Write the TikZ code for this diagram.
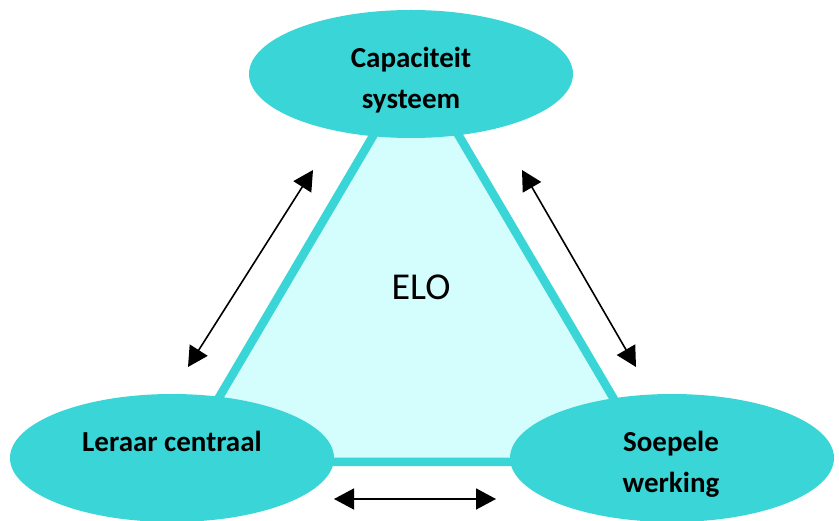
\documentclass[tikz,border=0pt]{standalone}
\usepackage{fontspec}
\setmainfont{Carlito}
\usetikzlibrary{shapes.geometric,arrows.meta}
\definecolor{teal1}{RGB}{58,213,214}
\definecolor{lcyan}{RGB}{212,254,254}
\begin{document}
\begin{tikzpicture}[x=1pt,y=-1pt,
  blob/.style={ellipse,fill=teal1,draw=none,minimum width=324pt,minimum height=128pt,inner sep=0pt},
  lbl/.style={font=\fontsize{29}{41}\selectfont\bfseries,align=center,text=black},
  dbl/.style={{Triangle[length=20pt,width=21pt]}-{Triangle[length=20pt,width=21pt]},line width=1.6pt,black}]
\useasboundingbox (0,0) rectangle (839,521);
\coordinate (ta) at (416,63);
\coordinate (tl) at (181,462);
\coordinate (tr) at (651,462);
\filldraw[fill=lcyan,draw=teal1,line width=8.5pt,line join=miter] (ta) -- (tl) -- (tr) -- cycle;
\node[blob] (cap) at (411,74) {};
\node[blob] (ler) at (172,458) {};
\node[blob] (soe) at (672,458) {};
\node[lbl] (capt) at (411,80) {Capaciteit\\systeem};
\node[lbl] (lert) at (172,441) {Leraar centraal};
\node[lbl] (soet) at (671,464) {Soepele\\werking};
\node[font=\fontsize{38}{40}\selectfont] (elo) at (421,287) {ELO};
\coordinate (a1) at (313,170);
\coordinate (a2) at (188,367);
\coordinate (b1) at (522,170);
\coordinate (b2) at (636,367);
\coordinate (c1) at (334,499);
\coordinate (c2) at (496,499);
\draw[dbl] (a1) -- (a2);
\draw[dbl] (b1) -- (b2);
\draw[dbl] (c1) -- (c2);
\end{tikzpicture}
\end{document}
